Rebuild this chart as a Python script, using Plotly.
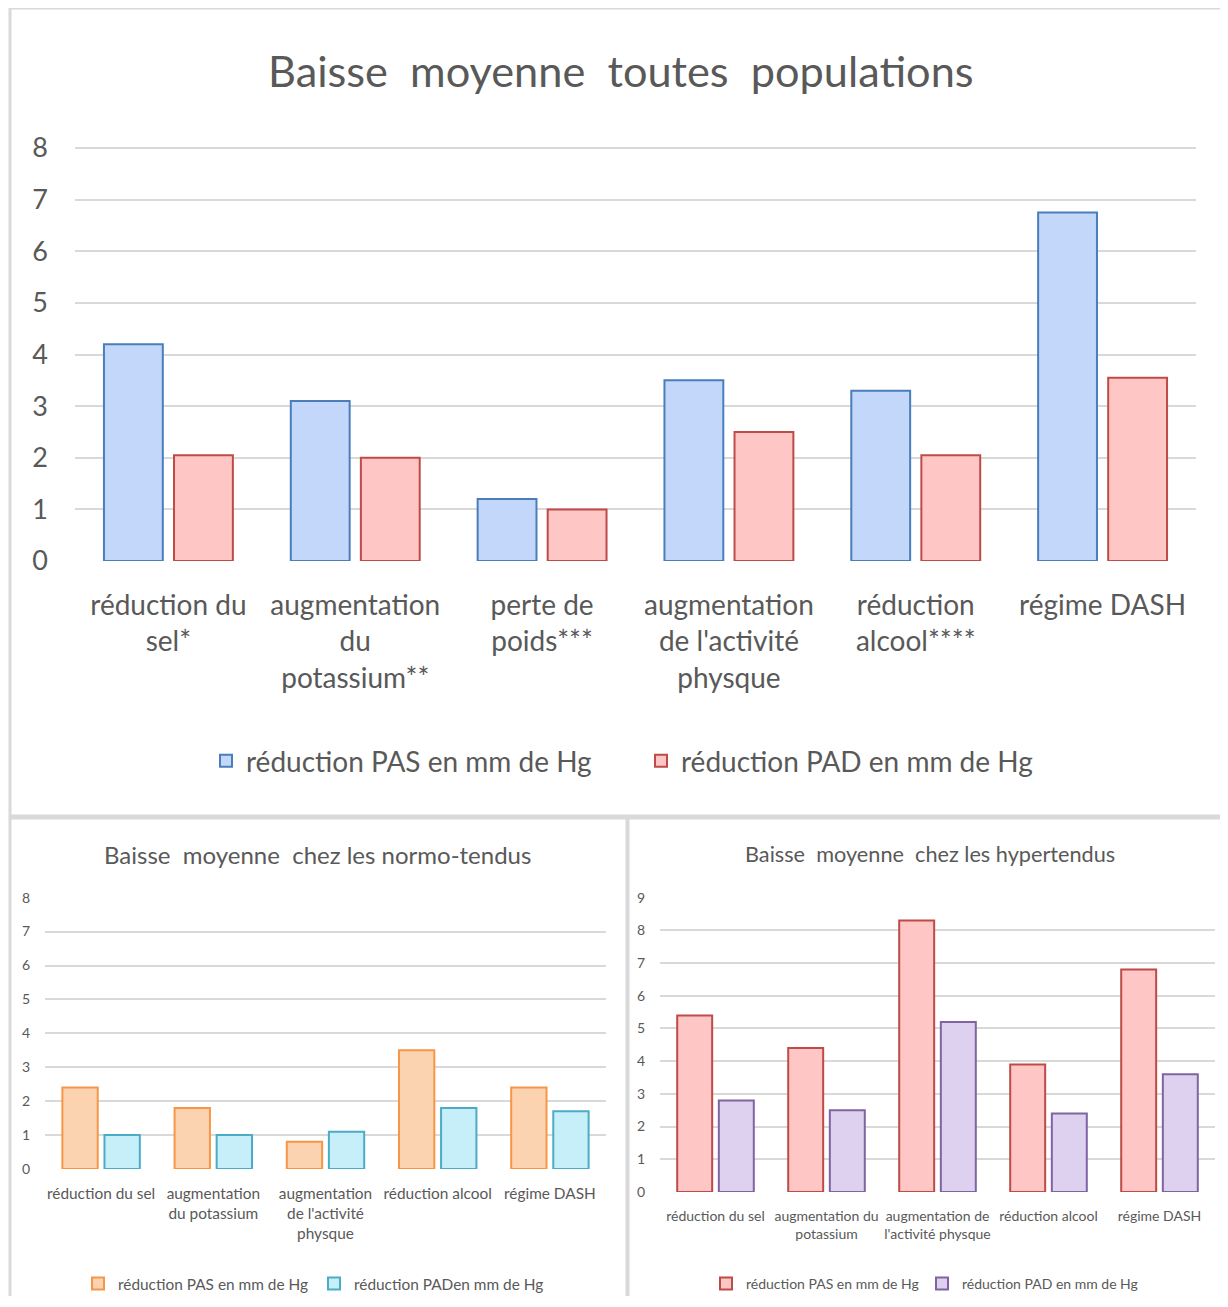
"""Baisse moyenne de la pression artérielle : trois graphiques en barres groupées."""

import plotly.graph_objects as go

# --- données -------------------------------------------------------------
cats_all = ["réduction du sel*", "augmentation du potassium**", "perte de poids***",
            "augmentation de l'activité physque", "réduction alcool****", "régime DASH"]
ticks_all = ["réduction du<br>sel*", "augmentation<br>du<br>potassium**", "perte de<br>poids***",
             "augmentation<br>de l'activité<br>physque", "réduction<br>alcool****", "régime DASH"]
pas_all = [4.2, 3.1, 1.2, 3.5, 3.3, 6.75]
pad_all = [2.05, 2.0, 1.0, 2.5, 2.05, 3.55]

cats_nt = ["réduction du sel", "augmentation du potassium", "augmentation de l'activité physque",
           "réduction alcool", "régime DASH"]
ticks_nt = ["réduction du sel", "augmentation<br>du potassium", "augmentation<br>de l'activité<br>physque",
            "réduction alcool", "régime DASH"]
pas_nt = [2.4, 1.8, 0.8, 3.5, 2.4]
pad_nt = [1.0, 1.0, 1.1, 1.8, 1.7]

cats_ht = cats_nt
ticks_ht = ["réduction du sel", "augmentation du<br>potassium", "augmentation de<br>l'activité physque",
            "réduction alcool", "régime DASH"]
pas_ht = [5.4, 4.4, 8.3, 3.9, 6.8]
pad_ht = [2.8, 2.5, 5.2, 2.4, 3.6]

# the page body keeps its 8px margin, so the figure is a bit smaller than the window
OFF = 8
W, H = 1212, 1288
FONT = "Lato"
GREY = "#595959"
GRID = "#d9d9d9"


def px_x(p):
    return (p - OFF) / W


def px_y(p):
    return 1 - (p - OFF) / H


fig = go.Figure()
legends = {}


def add_bar(x, y, name, fill, edge, axis, leg, x_sym, y_leg, size):
    # one legend per entry so every label can sit where the original has it
    fig.add_trace(go.Bar(
        x=x, y=y, name=name,
        marker=dict(color=fill, line=dict(color=edge, width=2)),
        xaxis="x" + axis, yaxis="y" + axis, legend=leg, showlegend=True,
        hoverinfo="x+y",
    ))
    legends[leg] = dict(x=px_x(x_sym - 13), y=px_y(y_leg), xanchor="left", yanchor="middle",
                        font=dict(size=size, color=GREY, family=FONT),
                        bgcolor="rgba(0,0,0,0)", itemclick=False, itemdoubleclick=False)


add_bar(cats_all, pas_all, "réduction PAS en mm de Hg", "#c3d7fa", "#4a7ebb", "", "legend", 219, 761, 28)
add_bar(cats_all, pad_all, "réduction PAD en mm de Hg", "#ffc6c6", "#be4b48", "", "legend2", 654, 761, 28)
add_bar(cats_nt, pas_nt, "réduction PAS en mm de Hg", "#fcd3b0", "#f79646", "2", "legend3", 91, 1284, 15.4)
add_bar(cats_nt, pad_nt, "réduction PADen mm de Hg", "#c6effa", "#4bacc6", "2", "legend4", 327, 1284, 15.4)
add_bar(cats_ht, pas_ht, "réduction PAS en mm de Hg", "#ffc6c6", "#be4b48", "3", "legend5", 719, 1284, 14)
add_bar(cats_ht, pad_ht, "réduction PAD en mm de Hg", "#ddd1ef", "#8064a2", "3", "legend6", 935, 1284, 14)


def axes(cats, ticks, xdom, ydom, ymax, tick_size, num_size, xstand, ystand):
    xa = dict(domain=xdom, tickvals=cats, ticktext=ticks, showgrid=False, showline=False,
              zeroline=False, tickangle=0, automargin=False,
              tickfont=dict(size=tick_size, color=GREY, family=FONT),
              ticklabelstandoff=xstand, fixedrange=True)
    ya = dict(domain=ydom, range=[0, ymax + 0.02], tickvals=list(range(ymax + 1)),
              showgrid=True, gridcolor=GRID, gridwidth=1.5, automargin=False,
              zeroline=False, showline=False, tickfont=dict(size=num_size, color=GREY, family=FONT),
              ticklabelstandoff=ystand, fixedrange=True)
    return xa, ya


xa1, ya1 = axes(cats_all, ticks_all, [px_x(75), px_x(1196)], [px_y(561), px_y(147)], 8, 28, 27, 25, 26)
xa2, ya2 = axes(cats_nt, ticks_nt, [px_x(45), px_x(606)], [px_y(1169), px_y(897)], 8, 15.4, 14, 14, 14)
xa3, ya3 = axes(cats_ht, ticks_ht, [px_x(660), px_x(1215)], [px_y(1192), px_y(897)], 9, 14, 14, 14, 14)
ya2["anchor"] = "x2"
ya3["anchor"] = "x3"
xa2["anchor"] = "y2"
xa3["anchor"] = "y3"

# cadres gris autour des trois graphiques
frame = dict(type="rect", xref="paper", yref="paper", line=dict(color="#d9d9d9", width=3),
             fillcolor="rgba(0,0,0,0)", layer="below")
shapes = [
    dict(frame, x0=px_x(10), x1=px_x(1240), y0=px_y(816), y1=px_y(8)),
    dict(frame, x0=px_x(10), x1=px_x(627), y0=px_y(1320), y1=px_y(818)),
    dict(frame, x0=px_x(628), x1=px_x(1240), y0=px_y(1320), y1=px_y(818)),
]

titles = [
    ("Baisse\u00a0 moyenne\u00a0 toutes\u00a0 populations", px_x(621), px_y(70), 43.3),
    ("Baisse\u00a0 moyenne\u00a0 chez les normo-tendus", px_x(317), px_y(854), 24),
    ("Baisse\u00a0 moyenne\u00a0 chez les hypertendus", px_x(930), px_y(854), 21.7),
]
annotations = [
    dict(text=t, x=x, y=y, xref="paper", yref="paper", xanchor="center", yanchor="middle",
         showarrow=False, font=dict(size=s, color=GREY, family=FONT))
    for t, x, y, s in titles
]

fig.update_layout(
    width=W, height=H, autosize=False,
    margin=dict(l=0, r=0, t=0, b=0, autoexpand=False),
    paper_bgcolor="white", plot_bgcolor="white",
    barmode="group", bargap=0.25, bargroupgap=0.16,
    font=dict(family=FONT, color=GREY),
    xaxis=xa1, yaxis=ya1, xaxis2=xa2, yaxis2=ya2, xaxis3=xa3, yaxis3=ya3,
    shapes=shapes, annotations=annotations,
    showlegend=True,
    **legends,
)

fig.write_html("out.html")
